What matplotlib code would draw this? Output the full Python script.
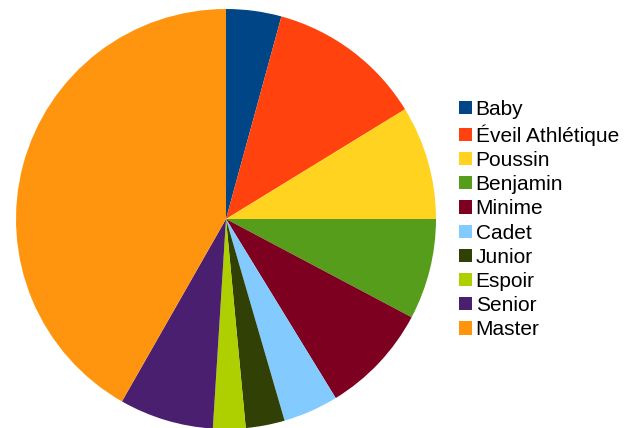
import matplotlib
matplotlib.use("Agg")
import matplotlib.pyplot as plt
from matplotlib.patches import Patch

plt.rcParams['font.family'] = ['Liberation Sans', 'DejaVu Sans']

categories = ["Baby", "Éveil Athlétique", "Poussin", "Benjamin", "Minime",
              "Cadet", "Junior", "Espoir", "Senior", "Master"]
values = [17, 48, 35, 31, 34, 17, 12, 10, 29, 167]
colors = ["#004586", "#ff420e", "#ffd320", "#579d1c", "#7e0021",
          "#83caff", "#314004", "#aecf00", "#4b1f6f", "#ff950e"]

W, H = 640, 428
fig = plt.figure(figsize=(W / 100, H / 100), dpi=100)
cx, cy, r = 226, 219, 210
ax = fig.add_axes([(cx - r) / W, (H - cy - r) / H, 2 * r / W, 2 * r / H])
ax.pie(values, colors=colors, startangle=90, counterclock=False, radius=1,
       wedgeprops=dict(linewidth=0))
ax.set_xlim(-1, 1)
ax.set_ylim(-1, 1)
ax.set_aspect('equal')
ax.axis('off')

handles = [Patch(facecolor=c, edgecolor='none') for c in colors]
fig.legend(handles, categories, loc='upper left',
           bbox_to_anchor=(459 / W, 1 - 100 / H), frameon=False,
           fontsize=15, handlelength=0.6, handleheight=0.6,
           handletextpad=0.2, labelspacing=0.25, borderpad=0, borderaxespad=0)

fig.savefig("out.png", dpi=100)
